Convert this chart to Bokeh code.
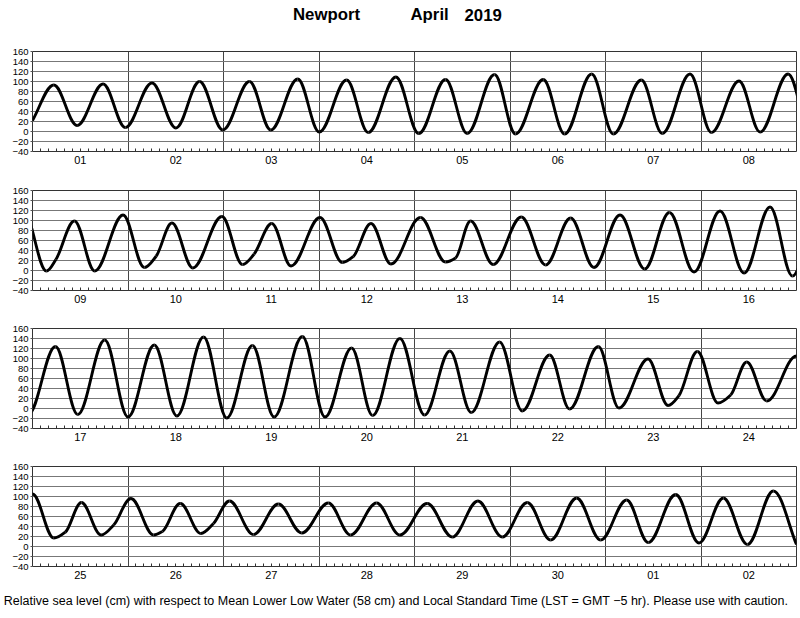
import numpy as np
from bokeh.plotting import figure
from bokeh.layouts import column
from bokeh.models import FixedTicker, Range1d, ColumnDataSource, Label
from bokeh.embed import file_html
from bokeh.resources import INLINE

# ---- data: tide turning points (days since 2019-04-01 00:00 LST, cm) ----
tide_time = [
    0.000, 0.223, 0.467, 0.739, 0.972, 1.251, 1.502, 1.749, 1.993, 2.272, 2.495, 2.777,
    3.003, 3.289, 3.516, 3.805, 4.045, 4.325, 4.552, 4.838, 5.058, 5.348, 5.572, 5.855,
    6.082, 6.375, 6.595, 6.885, 7.109, 7.398, 7.619, 7.912,
    8.146, 8.245, 8.439, 8.652, 8.948, 9.171, 9.296, 9.460, 9.679, 9.983, 10.199, 10.321,
    10.505, 10.707, 11.010, 11.244, 11.359, 11.544, 11.753, 12.063, 12.325, 12.430, 12.587,
    12.824, 13.118, 13.373, 13.635, 13.879, 14.152, 14.410, 14.669, 14.927, 15.199, 15.451,
    15.723, 15.957,
    16.240, 16.474, 16.756, 17.000, 17.275, 17.512, 17.791, 18.035, 18.303, 18.530, 18.826,
    19.063, 19.341, 19.561, 19.847, 20.105, 20.370, 20.594, 20.891, 21.128, 21.415, 21.624,
    21.925, 22.141, 22.445, 22.655, 22.770, 22.962, 23.178, 23.311, 23.479, 23.688, 24.000,
    24.223, 24.345, 24.512, 24.718, 24.850, 25.031, 25.268, 25.360, 25.547, 25.763, 25.895,
    26.063, 26.314, 26.575, 26.819, 27.098, 27.331, 27.603, 27.847, 28.133, 28.395, 28.664,
    28.919, 29.181, 29.425, 29.698, 29.949, 30.221, 30.448, 30.735, 30.979, 31.234, 31.486,
    31.758, 32.000,
]
tide_level = [
    22, 93, 12, 95, 8, 97, 7, 100, 3, 100, 3, 105,
    -1, 103, -2, 109, -4, 104, -4, 114, -5, 104, -5, 115,
    -5, 103, -4, 115, -2, 101, -1, 115,
    -1, 22, 99, -1, 111, 6, 29, 95, 5, 108, 12, 33,
    94, 9, 106, 16, 28, 94, 13, 106, 17, 25, 99,
    12, 107, 11, 105, 6, 111, 3, 116, -3, 119, -5,
    127, -11,
    124, -12, 137, -17, 127, -15, 143, -19, 126, -17, 144,
    -17, 121, -14, 140, -13, 115, -8, 133, -5, 107, -1,
    124, 1, 99, 6, 26, 114, 11, 27, 93, 15, 105,
    17, 29, 88, 23, 43, 96, 23, 30, 86, 26, 46,
    91, 24, 85, 27, 87, 23, 87, 23, 86, 19, 91,
    19, 88, 13, 97, 13, 93, 8, 104, 7, 97, 4,
    111, 4,
]
day_labels = ["%02d" % d for d in range(1, 31)] + ["01", "02"]
y_ticks = [-40, -20, 0, 20, 40, 60, 80, 100, 120, 140, 160]
title_words = ["Newport", "April", "2019"]
caption_text = ("Relative sea level (cm) with respect to Mean Lower Low Water (58 cm) and "
                "Local Standard Time (LST = GMT \u22125 hr). Please use with caution.")

# ---- smooth curve through turning points as cubic Bezier segments ----
t = np.array(tide_time, float)
h = np.array(tide_level, float)
dt = np.diff(t)
sec = np.diff(h) / dt
m = np.zeros_like(h)
for i in range(1, len(t) - 1):
    d1, d2 = sec[i - 1], sec[i]
    if d1 * d2 > 0:
        w1 = 2 * dt[i] + dt[i - 1]
        w2 = dt[i] + 2 * dt[i - 1]
        m[i] = (w1 + w2) / (w1 / d1 + w2 / d2)
m[0] = sec[0]
m[-1] = sec[-1]
a = np.where(m == 0, 0.36, 1.0 / 3.0)
src = ColumnDataSource(dict(
    x0=t[:-1], y0=h[:-1], x1=t[1:], y1=h[1:],
    cx0=t[:-1] + a[:-1] * dt, cy0=h[:-1] + m[:-1] * a[:-1] * dt,
    cx1=t[1:] - a[1:] * dt, cy1=h[1:] - m[1:] * a[1:] * dt,
))

FONT = "Liberation Sans"
noons = [d + 0.5 for d in range(32)]
minor = [d + hr / 24.0 for d in range(32) for hr in range(2, 23, 2) if hr != 12]


def text_strip(height):
    """Blank strip (pixel coordinates) used to hold the title / caption."""
    s = figure(frame_width=800, frame_height=height, x_range=Range1d(0, 800),
               y_range=Range1d(0, height), output_backend="svg", toolbar_location=None,
               title=None, x_axis_type=None, y_axis_type=None,
               min_border_left=0, min_border_right=0, min_border_top=0, min_border_bottom=0)
    s.frame_align = False
    s.outline_line_color = None
    s.xgrid.visible = False
    s.ygrid.visible = False
    s.background_fill_color = "white"
    s.border_fill_color = "white"
    return s


def make_panel(k, top, bottom):
    p = figure(frame_width=764, frame_height=100,
               x_range=Range1d(8 * k, 8 * k + 8), y_range=Range1d(-40, 160),
               output_backend="svg", toolbar_location=None, title=None,
               min_border_left=32, min_border_right=4,
               min_border_top=top, min_border_bottom=bottom)
    p.background_fill_color = "white"
    p.border_fill_color = "white"
    p.outline_line_color = "#333333"
    p.outline_line_width = 1

    p.yaxis.ticker = FixedTicker(ticks=y_ticks)
    p.yaxis.major_label_overrides = {-40: "\u221240", -20: "\u221220"}
    p.yaxis.major_tick_out = 2
    p.yaxis.major_tick_in = 0
    p.yaxis.minor_tick_line_color = None
    p.yaxis.axis_line_color = None
    p.yaxis.major_label_standoff = 2
    p.yaxis.major_label_text_font = FONT
    p.yaxis.major_label_text_font_size = "9.5px"
    p.yaxis.major_label_text_color = "black"
    p.yaxis.major_tick_line_color = "#555555"

    p.xaxis.ticker = FixedTicker(ticks=noons, minor_ticks=minor)
    p.xaxis.major_label_overrides = {noons[i]: day_labels[i] for i in range(32)}
    p.xaxis.major_tick_in = 3
    p.xaxis.major_tick_out = 0
    p.xaxis.minor_tick_in = 3
    p.xaxis.minor_tick_out = 0
    p.xaxis.axis_line_color = None
    p.xaxis.major_tick_line_color = "#333333"
    p.xaxis.minor_tick_line_color = "#333333"
    p.xaxis.major_label_standoff = 4
    p.xaxis.major_label_text_font = FONT
    p.xaxis.major_label_text_font_size = "11px"
    p.xaxis.major_label_text_color = "black"

    p.xgrid.ticker = FixedTicker(ticks=list(range(33)))
    p.xgrid.grid_line_color = "#444444"
    p.xgrid.grid_line_width = 1
    p.ygrid.ticker = FixedTicker(ticks=y_ticks)
    p.ygrid.grid_line_color = "#777777"
    p.ygrid.grid_line_width = 1

    p.bezier(x0="x0", y0="y0", x1="x1", y1="y1", cx0="cx0", cy0="cy0",
             cx1="cx1", cy1="cy1", source=src, line_color="black", line_width=2.9)
    return p


head = text_strip(43)
for txt, xpos in zip(title_words, (292.5, 410, 464)):
    head.add_layout(Label(x=xpos, y=29, text=txt, text_font=FONT, text_font_size="16.8px",
                          text_font_style="bold", text_color="black",
                          text_baseline="middle", text_align="left"))

p1 = make_panel(0, 8, 19)
p2 = make_panel(1, 20, 19)
p3 = make_panel(2, 19, 19)
p4 = make_panel(3, 19, 19)

foot = text_strip(25)
foot.add_layout(Label(x=3.3, y=10, text=caption_text, text_font=FONT,
                      text_font_size="12.5px", text_color="black",
                      text_baseline="middle", text_align="left"))

layout = column(head, p1, p2, p3, p4, foot, spacing=0)
open("out.html", "w").write(file_html(layout, INLINE))
